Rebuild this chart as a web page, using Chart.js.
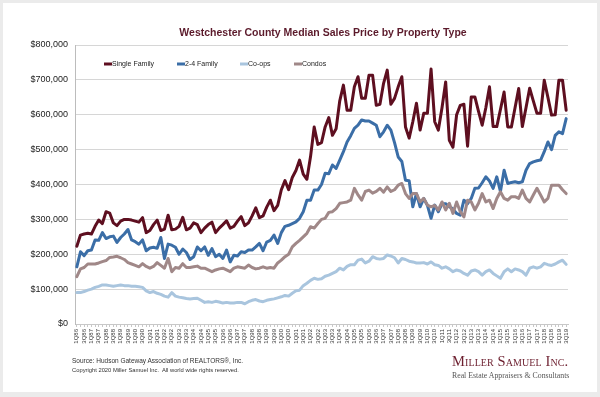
<!DOCTYPE html>
<html><head><meta charset="utf-8">
<script src="https://cdn.jsdelivr.net/npm/chart.js@4/dist/chart.umd.min.js"></script>
<style>
html,body{margin:0;padding:0;background:#ebebeb;width:600px;height:397px;overflow:hidden;}
#card{position:absolute;left:3px;top:3px;width:594px;height:389px;background:#fff;}
#wrap{position:absolute;left:0;top:0;width:600px;height:397px;}
.t{position:absolute;white-space:nowrap;font-family:"Liberation Sans",Arial,sans-serif;}
.s{position:absolute;white-space:nowrap;font-family:"Liberation Serif","Times New Roman",serif;}
</style></head><body>
<div id="card"></div>
<div id="wrap"><canvas id="c" width="600" height="397"></canvas></div>
<div class="t" style="left:0;width:646px;text-align:center;top:27px;line-height:11px;font-size:10.5px;font-weight:bold;color:#5b1a2b;">Westchester County Median Sales Price by Property Type</div>
<div class="t" style="left:72px;top:357px;line-height:8px;font-size:6.5px;color:#333;">Source: Hudson Gateway Association of REALTORS®, Inc.</div>
<div class="t" style="left:72px;top:367px;line-height:7px;font-size:5.8px;color:#333;">Copyright 2020 Miller Samuel Inc.&nbsp; All world wide rights reserved.</div>
<div class="s" style="left:452px;top:353px;line-height:16px;font-size:14.5px;color:#6d1f2f;font-variant:small-caps;letter-spacing:0.1px;">Miller Samuel Inc.</div>
<div class="s" style="left:452px;top:371px;line-height:10px;font-size:7.8px;color:#555;">Real Estate Appraisers &amp; Consultants</div>
<script>
const years = [];
for (let y = 1986; y <= 2019; y++) years.push(y);
const quarterLabels = [];
years.forEach(y => { for (let q = 1; q <= 4; q++) { if (y === 2019 && q === 4) break; quarterLabels.push(q + 'Q' + String(y).slice(2)); } });

const singleFamily = [
223,255,258,260, 258,280,298,288, 322,318,290,282, 295,300,300,298,
295,292,305,262, 268,285,298,268, 272,312,270,272, 280,306,270,275,
290,285,262,275, 285,292,262,275, 285,296,275,280, 295,308,282,290,
310,333,305,310, 335,355,325,340, 385,411,385,420, 440,470,430,415,
480,565,515,520, 565,592,541,560, 640,685,613,613, 680,709,647,647,
713,713,627,630, 690,728,630,647, 680,709,565,533, 580,633,556,604,
604,731,580,556, 620,694,527,507, 600,627,630,510, 651,651,610,570,
620,680,566,566, 615,665,565,565, 620,675,566,620, 676,640,604,604,
699,650,599,600, 699,699,613];

const twoFourFamily = [
164,207,196,210, 212,241,240,262, 245,250,252,234, 248,258,271,241,
236,229,241,210, 218,220,217,248, 188,229,226,220, 200,215,205,185,
193,221,210,221, 197,216,193,200, 188,212,178,197, 195,207,205,212,
212,221,231,210, 235,240,255,231, 262,280,283,288, 293,303,322,355,
355,384,384,400, 432,431,456,446, 470,494,522,540, 561,570,585,582,
582,576,570,537, 551,570,556,520, 479,466,412,411, 336,374,336,360,
340,303,341,322, 345,345,336,330, 317,312,355,345, 360,389,390,405,
422,410,389,422, 380,441,403,406, 408,405,408,441, 460,465,468,470,
494,522,500,541, 551,546,589];

const coops = [
90,90,93,97, 100,105,108,112, 112,110,108,110, 112,110,110,108,
108,107,105,95, 90,93,88,85, 80,77,90,80, 77,75,73,72,
73,74,68,62, 64,62,65,63, 60,62,60,60, 62,62,58,64,
68,70,66,64, 68,70,72,75, 78,82,80,88, 95,97,110,117,
125,131,128,130, 137,140,145,150, 160,155,165,170, 170,183,186,175,
180,193,188,186, 188,198,195,190, 175,188,185,180, 178,175,175,176,
172,178,170,168, 160,164,158,150, 155,152,145,140, 152,155,150,140,
150,155,145,138, 131,150,158,150, 158,155,150,140, 160,164,160,164,
174,170,168,172, 178,183,171];

const condos = [
136,158,162,172, 172,172,175,179, 182,191,192,194, 190,185,176,172,
168,164,173,165, 160,165,176,168, 160,188,150,162, 160,173,162,162,
164,166,160,160, 155,150,155,158, 160,155,150,160, 164,162,160,169,
162,158,160,164, 160,162,160,175, 183,193,200,221, 231,240,250,260,
279,275,288,300, 303,320,322,331, 346,348,350,355, 389,370,355,380,
384,375,380,389, 378,393,380,385, 398,403,374,360, 374,374,350,360,
341,336,340,327, 350,327,346,317, 350,322,307,355, 350,327,346,374,
350,355,331,360, 379,360,355,365, 365,360,384,360, 350,370,389,370,
350,360,398,398, 398,385,374];

const seriesNames = ['Single Family', '2-4 Family', 'Co-ops', 'Condos'];
const seriesColors = ['#5e0f20', '#3b6ea7', '#a9c5de', '#a08888'];
const seriesValues = [singleFamily, twoFourFamily, coops, condos];

const legendPlugin = {
  id: 'inLegend',
  afterDraw(chart, args, opts) {
    const ctx = chart.ctx;
    ctx.save();
    ctx.font = '7px "Liberation Sans", Arial, sans-serif';
    ctx.textBaseline = 'middle';
    ctx.textAlign = 'left';
    chart.data.datasets.forEach((ds, i) => {
      const x = opts.xs[i], y = opts.y;
      ctx.strokeStyle = ds.borderColor;
      ctx.lineWidth = 3;
      ctx.lineCap = 'butt';
      ctx.beginPath(); ctx.moveTo(x, y); ctx.lineTo(x + 8, y); ctx.stroke();
      ctx.fillStyle = '#222';
      ctx.fillText(ds.label, x + 8, y);
    });
    ctx.restore();
  }
};

new Chart(document.getElementById('c'), {
  type: 'line',
  data: {
    labels: quarterLabels,
    datasets: seriesValues.map((vals, i) => ({
      label: seriesNames[i],
      data: vals.map(v => v * 1000),
      borderColor: seriesColors[i],
      backgroundColor: seriesColors[i],
      borderWidth: 3,
      pointRadius: 0,
      tension: 0,
      fill: false,
      borderJoinStyle: 'round',
      borderCapStyle: 'round',
      order: 3 - i
    }))
  },
  options: {
    responsive: false,
    animation: false,
    devicePixelRatio: 1,
    layout: { padding: { left: 0, right: 32, top: 45, bottom: 0 } },
    plugins: {
      legend: { display: false },
      tooltip: { enabled: false },
      inLegend: { xs: [104, 177, 240, 294], y: 64 }
    },
    scales: {
      x: {
        offset: true,
        afterFit(s) { s.height = 73; },
        grid: { display: true, drawOnChartArea: false, drawTicks: true, tickLength: 3, color: '#c8c8c8' },
        border: { color: '#c8c8c8' },
        ticks: {
          autoSkip: false, minRotation: 90, maxRotation: 90, padding: 2,
          color: '#333', font: { family: '"Liberation Sans", Arial, sans-serif', size: 6 },
          callback: function (v, i) { return i % 2 === 0 ? this.getLabelForValue(v) : ''; }
        }
      },
      y: {
        min: 0, max: 800000,
        afterFit(s) { s.width = 75; },
        grid: { color: '#d6d6d6', drawTicks: false },
        border: { color: '#bcbcbc' },
        ticks: {
          stepSize: 100000, padding: 7, color: '#222',
          font: { family: '"Liberation Sans", Arial, sans-serif', size: 9 },
          callback: v => '$' + v.toLocaleString('en-US')
        }
      }
    }
  },
  plugins: [legendPlugin]
});
</script>
</body></html>
